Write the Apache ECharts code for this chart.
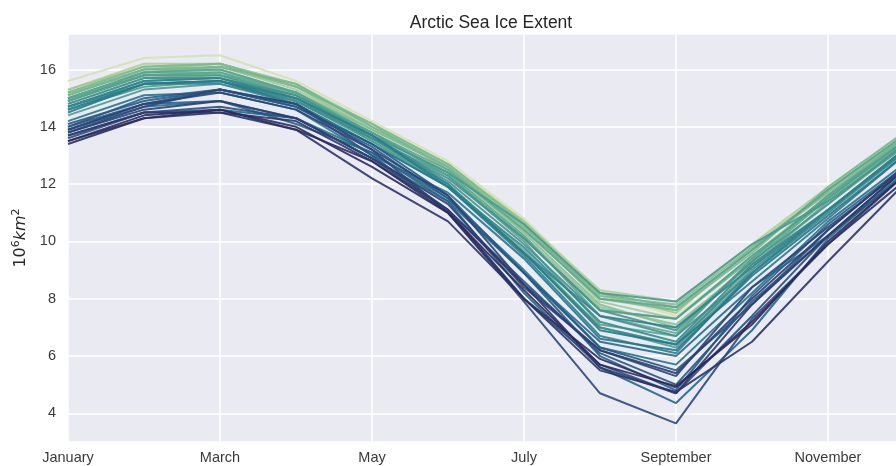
<!DOCTYPE html>
<html>
<head>
<meta charset="utf-8">
<title>Arctic Sea Ice Extent</title>
<script src="https://cdn.jsdelivr.net/npm/echarts@6/dist/echarts.min.js"></script>
<style>
  html, body { margin: 0; padding: 0; background: #ffffff; }
  #chart { width: 896px; height: 466px; }
</style>
</head>
<body>
<div id="chart"></div>
<script>
// months on the x axis
var months = ['January', 'February', 'March', 'April', 'May', 'June',
              'July', 'August', 'September', 'October', 'November', 'December'];

// monthly extent, 10^6 km^2, one array per year
var ice1979 = [15.6, 16.4, 16.5, 15.6, 14.2, 12.8, 10.8, 8.2, 7.4, 9.4, 11.6, 13.7];
var ice1980 = [15.3, 16.2, 16.2, 15.5, 14.1, 12.7, 10.7, 8.3, 7.9, 9.9, 11.9, 13.8];
var ice1981 = [15.2, 15.9, 16.1, 15.3, 13.9, 12.6, 10.5, 7.9, 7.3, 9.5, 11.6, 13.5];
var ice1982 = [15.3, 16.1, 16.2, 15.5, 14.0, 12.7, 10.6, 8.2, 7.5, 9.8, 11.8, 13.7];
var ice1983 = [15.2, 16.0, 16.2, 15.4, 13.9, 12.6, 10.7, 8.1, 7.6, 9.7, 11.7, 13.6];
var ice1984 = [14.9, 15.8, 15.9, 15.1, 13.8, 12.4, 10.2, 7.7, 7.1, 9.2, 11.3, 13.3];
var ice1985 = [14.9, 15.9, 16.1, 15.4, 14.1, 12.5, 10.3, 7.8, 7.0, 9.3, 11.5, 13.4];
var ice1986 = [15.1, 16.0, 16.0, 15.2, 13.9, 12.6, 10.5, 8.1, 7.8, 9.8, 11.7, 13.6];
var ice1987 = [15.2, 16.1, 16.2, 15.4, 14.1, 12.7, 10.6, 8.0, 7.6, 9.6, 11.9, 13.8];
var ice1988 = [15.1, 16.0, 16.1, 15.5, 14.0, 12.6, 10.4, 8.2, 7.7, 9.7, 11.8, 13.7];
var ice1989 = [15.0, 15.8, 15.8, 15.0, 13.6, 12.3, 10.1, 7.6, 7.3, 9.4, 11.6, 13.6];
var ice1990 = [15.0, 15.9, 15.9, 15.0, 13.5, 12.0, 9.7, 7.0, 6.4, 9.1, 11.4, 13.4];
var ice1991 = [14.8, 15.7, 15.8, 15.2, 13.7, 12.4, 10.2, 7.4, 6.8, 9.3, 11.5, 13.5];
var ice1992 = [14.9, 15.8, 15.9, 15.2, 13.8, 12.5, 10.4, 8.0, 7.7, 9.7, 11.8, 13.7];
var ice1993 = [15.0, 15.9, 16.0, 15.2, 13.6, 12.3, 10.0, 7.1, 6.7, 9.4, 11.6, 13.5];
var ice1994 = [14.9, 15.8, 15.8, 15.1, 13.8, 12.3, 10.1, 7.6, 7.3, 9.5, 11.5, 13.5];
var ice1995 = [14.6, 15.4, 15.6, 14.9, 13.5, 11.9, 9.6, 7.0, 6.3, 8.9, 11.0, 13.1];
var ice1996 = [14.4, 15.3, 15.5, 14.9, 13.7, 12.4, 10.6, 8.2, 7.9, 9.9, 11.4, 13.3];
var ice1997 = [14.7, 15.6, 15.7, 14.9, 13.6, 12.2, 10.1, 7.6, 6.9, 9.3, 11.3, 13.4];
var ice1998 = [14.8, 15.7, 15.7, 15.1, 13.7, 12.1, 9.9, 7.4, 6.7, 8.9, 11.0, 13.2];
var ice1999 = [14.6, 15.5, 15.6, 14.9, 13.6, 12.0, 9.6, 7.0, 6.4, 9.0, 11.1, 13.2];
var ice2000 = [14.7, 15.5, 15.5, 14.8, 13.4, 11.9, 9.8, 7.2, 6.5, 9.2, 11.1, 13.2];
var ice2001 = [14.7, 15.6, 15.7, 15.0, 13.7, 12.0, 9.6, 7.4, 7.0, 9.1, 11.1, 13.1];
var ice2002 = [14.6, 15.5, 15.6, 15.0, 13.7, 11.9, 9.5, 6.7, 6.1, 8.9, 11.1, 13.2];
var ice2003 = [14.5, 15.5, 15.6, 14.8, 13.4, 11.9, 9.6, 6.9, 6.4, 8.6, 10.8, 13.0];
var ice2004 = [14.2, 15.1, 15.2, 14.6, 13.0, 11.7, 9.4, 6.6, 6.2, 8.8, 10.9, 13.0];
var ice2005 = [13.9, 14.7, 14.9, 14.3, 13.1, 11.5, 9.0, 6.3, 5.7, 8.2, 10.7, 12.7];
var ice2006 = [13.7, 14.5, 14.6, 14.3, 12.9, 11.4, 8.9, 6.5, 6.0, 8.4, 10.2, 12.5];
var ice2007 = [13.9, 14.8, 14.9, 14.1, 13.1, 11.4, 8.2, 5.6, 4.36, 6.9, 10.1, 12.4];
var ice2008 = [14.0, 15.0, 15.3, 14.7, 13.3, 11.5, 8.9, 6.0, 4.8, 8.1, 10.6, 12.6];
var ice2009 = [14.1, 14.9, 15.3, 14.7, 13.4, 11.6, 8.9, 6.3, 5.5, 7.8, 10.4, 12.6];
var ice2010 = [14.0, 14.8, 15.3, 14.8, 13.0, 11.1, 8.6, 6.1, 5.0, 7.9, 10.2, 12.3];
var ice2011 = [13.6, 14.5, 14.7, 14.3, 12.9, 11.1, 8.0, 5.7, 4.7, 7.4, 10.2, 12.5];
var ice2012 = [13.8, 14.7, 15.3, 14.8, 13.2, 11.0, 7.9, 4.7, 3.65, 7.3, 9.9, 12.3];
var ice2013 = [13.9, 14.8, 15.2, 14.6, 13.2, 11.6, 8.5, 6.2, 5.3, 8.4, 10.5, 12.5];
var ice2014 = [13.8, 14.6, 14.9, 14.3, 12.9, 11.3, 8.4, 6.2, 5.4, 8.0, 10.4, 12.6];
var ice2015 = [13.7, 14.5, 14.5, 14.2, 12.8, 11.1, 8.5, 5.6, 4.7, 7.8, 10.2, 12.5];
var ice2016 = [13.5, 14.3, 14.5, 13.9, 12.2, 10.7, 8.0, 5.5, 4.75, 6.5, 9.3, 12.0];
var ice2017 = [13.4, 14.3, 14.6, 13.9, 12.8, 11.0, 8.0, 5.9, 4.9, 7.2, 9.9, 12.1];
var ice2018 = [13.5, 14.4, 14.6, 14.0, 12.6, 11.0, 8.3, 5.7, 4.95, 7.1, 10.0, 12.3];

var years = [1979, 1980, 1981, 1982, 1983, 1984, 1985, 1986, 1987, 1988,
             1989, 1990, 1991, 1992, 1993, 1994, 1995, 1996, 1997, 1998,
             1999, 2000, 2001, 2002, 2003, 2004, 2005, 2006, 2007, 2008,
             2009, 2010, 2011, 2012, 2013, 2014, 2015, 2016, 2017, 2018];
var extentByYear = [ice1979, ice1980, ice1981, ice1982, ice1983, ice1984, ice1985, ice1986,
                    ice1987, ice1988, ice1989, ice1990, ice1991, ice1992, ice1993, ice1994,
                    ice1995, ice1996, ice1997, ice1998, ice1999, ice2000, ice2001, ice2002,
                    ice2003, ice2004, ice2005, ice2006, ice2007, ice2008, ice2009, ice2010,
                    ice2011, ice2012, ice2013, ice2014, ice2015, ice2016, ice2017, ice2018];

// crest-like palette, light green -> dark blue
var paletteStops = [
    [0.00, [212, 226, 180]],
    [0.03, [165, 205, 144]],
    [0.20, [125, 186, 145]],
    [0.35, [89, 165, 144]],
    [0.50, [64, 144, 142]],
    [0.62, [40, 122, 140]],
    [0.74, [36, 96, 136]],
    [0.86, [45, 70, 120]],
    [1.00, [44, 42, 92]]
];

function paletteColor(t) {
    for (var i = 1; i < paletteStops.length; i++) {
        if (t <= paletteStops[i][0]) {
            var a = paletteStops[i - 1], b = paletteStops[i];
            var f = (t - a[0]) / (b[0] - a[0]);
            var c = a[1].map(function (v, k) { return Math.round(v + (b[1][k] - v) * f); });
            return 'rgb(' + c.join(',') + ')';
        }
    }
    return 'rgb(' + paletteStops[paletteStops.length - 1][1].join(',') + ')';
}

var series = years.map(function (year, i) {
    return {
        name: String(year),
        type: 'line',
        data: extentByYear[i],
        symbol: 'none',
        lineStyle: {
            width: 2,
            color: paletteColor(i / (years.length - 1)),
            opacity: 0.9
        },
        emphasis: { disabled: true }
    };
});

var chart = echarts.init(document.getElementById('chart'));

var option = {
    animation: false,
    backgroundColor: '#ffffff',
    title: {
        text: 'Arctic Sea Ice Extent',
        left: 486,
        top: 9,
        textAlign: 'center',
        textStyle: {
            fontFamily: 'Liberation Sans',
            fontSize: 17.5,
            fontWeight: 'normal',
            color: '#262626'
        }
    },
    grid: {
        left: 68,
        right: -8,
        top: 34,
        bottom: 24,
        outerBoundsMode: 'none',
        containLabel: false,
        show: true,
        backgroundColor: '#eaeaf2',
        borderWidth: 0
    },
    xAxis: {
        type: 'category',
        data: months,
        boundaryGap: false,
        axisLine: { show: false },
        axisTick: { show: false, interval: 1 },
        axisLabel: {
            interval: 1,
            margin: 8,
            fontFamily: 'Liberation Sans',
            fontSize: 14.5,
            color: '#3a3a3a'
        },
        splitLine: {
            show: true,
            interval: 1,
            lineStyle: { color: '#ffffff', width: 1.5 }
        }
    },
    yAxis: {
        type: 'value',
        min: 3.0,
        max: 17.24,
        splitNumber: 7,
        name: '{n|10}{s|6}{k|km}{s|2}',
        nameLocation: 'middle',
        nameRotate: 90,
        nameGap: 38,
        nameTextStyle: {
            rich: {
                n: { fontFamily: 'DejaVu Sans', fontSize: 16, color: '#262626' },
                k: { fontFamily: 'DejaVu Sans', fontSize: 16, fontStyle: 'italic', color: '#262626' },
                s: { fontFamily: 'DejaVu Sans', fontSize: 11, color: '#262626', verticalAlign: 'top', padding: [0, 0, 8, 0] }
            }
        },
        axisLine: { show: false },
        axisTick: { show: false },
        axisLabel: {
            margin: 12,
            fontFamily: 'Liberation Sans',
            fontSize: 14.5,
            color: '#3a3a3a',
            formatter: function (v) { return v % 2 === 0 ? String(v) : ''; }
        },
        splitLine: {
            lineStyle: { color: '#ffffff', width: 1.5 }
        }
    },
    series: series
};

chart.setOption(option);
</script>
</body>
</html>
